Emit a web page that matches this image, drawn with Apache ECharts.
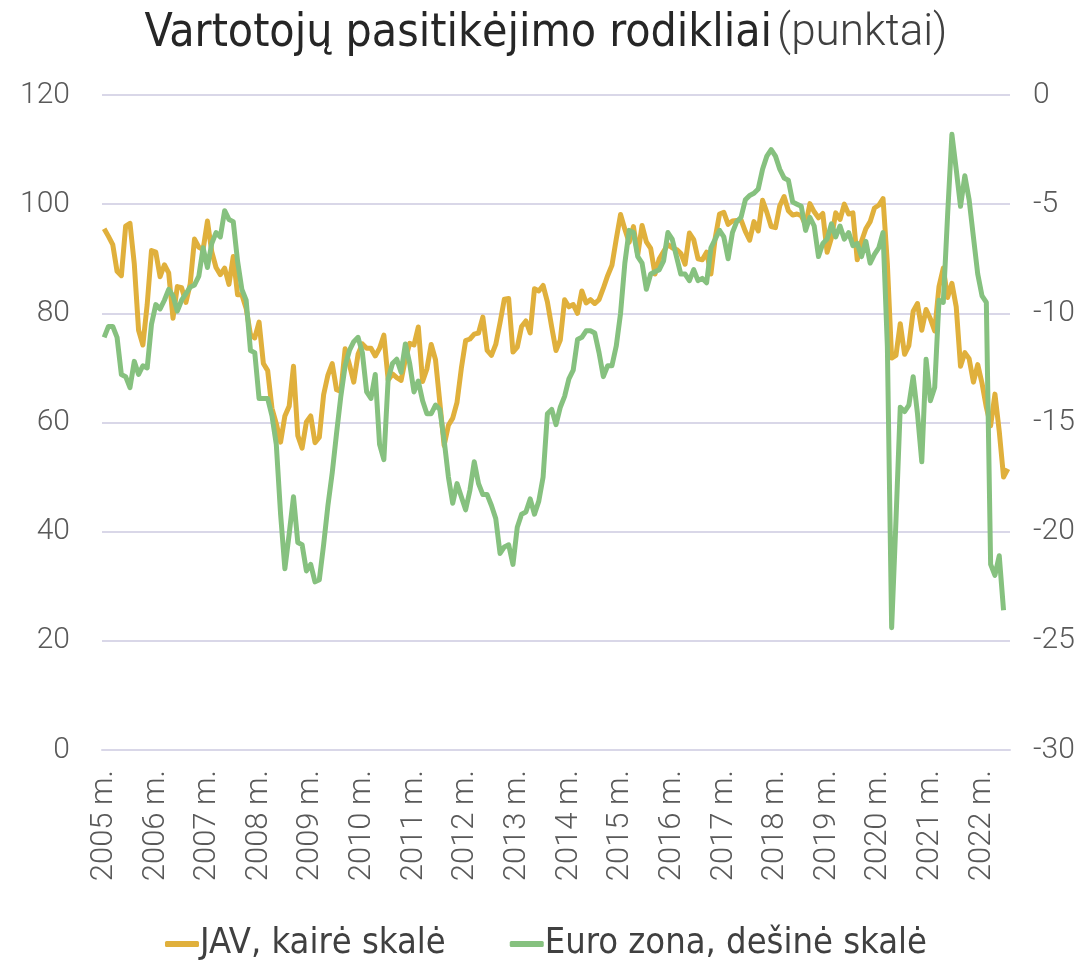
<!DOCTYPE html>
<html>
<head>
<meta charset="utf-8">
<script src="https://cdn.jsdelivr.net/npm/echarts@6/dist/echarts.min.js"></script>
<style>
    html, body { margin: 0; padding: 0; background: #fff; }
    #chart { width: 1092px; height: 969px; }
</style>
</head>
<body>
<div id="chart"></div>
<script>
// metai (kas 12 mėn. rodoma žymė)
var years = [2005, 2006, 2007, 2008, 2009, 2010, 2011, 2012, 2013, 2014,
    2015, 2016, 2017, 2018, 2019, 2020, 2021, 2022];

// JAV, kairė skalė (mėnesinės reikšmės nuo 2005-01)
var usValues = [
    95.5, 94.1, 92.6, 87.7, 86.9, 96.0, 96.5, 89.1, 76.9, 74.2, 81.6, 91.5,
    91.2, 86.7, 88.9, 87.4, 79.1, 84.9, 84.7, 82.0, 85.4, 93.6, 92.1, 91.7,
    96.9, 91.3, 88.4, 87.1, 88.3, 85.3, 90.4, 83.4, 83.4, 80.9, 76.1, 75.5,
    78.4, 70.8, 69.5, 62.6, 59.8, 56.4, 61.2, 63.0, 70.3, 57.6, 55.3, 60.1,
    61.2, 56.3, 57.3, 65.1, 68.7, 70.8, 66.0, 65.7, 73.5, 70.6, 67.4, 72.5,
    74.4, 73.6, 73.6, 72.2, 73.6, 76.0, 67.8, 68.9, 68.2, 67.7, 71.6, 74.5,
    74.2, 77.5, 67.5, 69.8, 74.3, 71.5, 63.7, 55.8, 59.5, 60.8, 63.7, 69.9,
    75.0, 75.3, 76.2, 76.4, 79.3, 73.2, 72.3, 74.3, 78.3, 82.6, 82.7, 72.9,
    73.8, 77.6, 78.6, 76.4, 84.5, 84.1, 85.1, 82.1, 77.5, 73.2, 75.1, 82.5,
    81.2, 81.6, 80.0, 84.1, 81.9, 82.5, 81.8, 82.5, 84.6, 86.9, 88.8, 93.6,
    98.1, 95.4, 93.0, 95.9, 90.7, 96.1, 93.1, 91.9, 87.2, 90.0, 91.3, 92.6,
    92.0, 91.7, 91.0, 89.0, 94.7, 93.5, 90.0, 89.8, 91.2, 87.2, 93.8, 98.2,
    98.5, 96.3, 96.9, 97.0, 97.1, 95.0, 93.4, 96.8, 95.1, 100.7, 98.5, 95.9,
    95.7, 99.7, 101.4, 98.8, 98.0, 98.2, 97.9, 96.2, 100.1, 98.6, 97.5, 98.3,
    91.2, 93.8, 98.4, 97.2, 100.0, 98.2, 98.4, 89.8, 93.2, 95.5, 96.8, 99.3,
    99.8, 101.0, 89.1, 71.8, 72.3, 78.1, 72.5, 74.1, 80.4, 81.8, 76.9, 80.7,
    79.0, 76.8, 84.9, 88.3, 82.9, 85.5, 81.2, 70.3, 72.8, 71.7, 67.4, 70.6,
    67.2, 62.8, 59.4, 65.2, 58.4, 50.0, 51.5
];

// Euro zona, dešinė skalė
var euroValues = [
    -11.1, -10.6, -10.6, -11.1, -12.8, -12.9, -13.4, -12.2, -12.8, -12.4, -12.5, -10.5,
    -9.6, -9.8, -9.4, -8.9, -9.2, -9.9, -9.4, -9.1, -8.8, -8.7, -8.3, -7.0,
    -7.9, -6.8, -6.3, -6.5, -5.3, -5.7, -5.8, -7.6, -8.9, -9.4, -11.7, -11.8,
    -13.9, -13.9, -13.9, -14.7, -16.0, -19.2, -21.7, -20.1, -18.4, -20.5, -20.6, -21.8,
    -21.5, -22.3, -22.2, -20.6, -18.8, -17.3, -15.5, -13.8, -12.4, -11.7, -11.3, -11.1,
    -11.8, -13.6, -13.9, -12.8, -16.0, -16.7, -13.0, -12.3, -12.1, -12.7, -11.4, -12.3,
    -13.6, -13.1, -14.0, -14.6, -14.6, -14.2, -14.4, -15.8, -17.5, -18.7, -17.8, -18.4,
    -19.0, -18.1, -16.8, -17.8, -18.3, -18.3, -18.8, -19.4, -21.0, -20.7, -20.6, -21.5,
    -19.8, -19.2, -19.1, -18.5, -19.2, -18.6, -17.5, -14.6, -14.4, -15.1, -14.3, -13.8,
    -13.0, -12.6, -11.2, -11.1, -10.8, -10.8, -10.9, -11.8, -12.9, -12.4, -12.4, -11.5,
    -10.0, -7.7, -6.2, -6.3, -7.4, -7.7, -8.9, -8.2, -8.1, -8.0, -7.6, -6.3,
    -6.6, -7.4, -8.2, -8.2, -8.5, -8.0, -8.5, -8.4, -8.6, -7.0, -6.6, -6.2,
    -6.5, -7.5, -6.3, -5.8, -5.6, -4.8, -4.6, -4.5, -4.3, -3.4, -2.8, -2.5,
    -2.8, -3.4, -3.8, -3.9, -4.9, -5.0, -5.1, -6.2, -5.6, -6.0, -7.4, -6.8,
    -6.6, -5.9, -6.5, -6.0, -6.6, -6.3, -6.9, -6.8, -7.4, -6.7, -7.7, -7.3,
    -7.0, -6.3, -11.5, -24.4, -19.5, -14.3, -14.5, -14.2, -12.9, -14.6, -16.8, -12.1,
    -14.0, -13.4, -9.4, -9.5, -5.5, -1.8, -3.4, -5.1, -3.7, -4.8, -6.5, -8.2,
    -9.2, -9.5, -21.5, -22.0, -21.1, -23.6
];

var leftTicks = [0, 20, 40, 60, 80, 100, 120];
var rightTicks = [-30, -25, -20, -15, -10, -5, 0];

var seriesNames = ['JAV, kairė skalė', 'Euro zona, dešinė skalė'];
var seriesColors = ['#E0B03C', '#86C17F'];

function buildMonths() {
    var months = [];
    for (var i = 0; i < usValues.length; i++) {
        var y = years[0] + Math.floor(i / 12);
        var m = i % 12 + 1;
        months.push(y + '-' + (m < 10 ? '0' + m : m));
    }
    return months;
}

var condFont = "'Liberation Sans Narrow', 'DejaVu Sans Condensed', 'Roboto Condensed', sans-serif";
var axisFont = "Roboto, 'Noto Sans', sans-serif";
var gridColor = '#D9D7E8';

var chart = echarts.init(document.getElementById('chart'));
var option = {
    backgroundColor: '#fff',
    animation: false,
    title: {
        left: 'center',
        top: 6,
        text: '{a|Vartotojų pasitikėjimo rodikliai} {b|(punktai)}',
        textStyle: {
            fontWeight: 'normal',
            rich: {
                a: { fontFamily: condFont, fontWeight: 'normal', fontSize: 46, color: '#262626' },
                b: { fontFamily: axisFont, fontWeight: 300, fontSize: 44, color: '#404040' }
            }
        }
    },
    legend: {
        bottom: 2,
        left: 'center',
        icon: 'roundRect',
        itemWidth: 34,
        itemHeight: 6,
        itemGap: 64,
        data: seriesNames,
        textStyle: {
            fontFamily: condFont,
            fontSize: 36,
            color: '#404040',
            padding: [0, 0, 0, -4]
        }
    },
    grid: {
        left: 102,
        right: 82,
        top: 95,
        bottom: 219
    },
    xAxis: {
        type: 'category',
        boundaryGap: true,
        data: buildMonths(),
        axisLine: { lineStyle: { color: gridColor, width: 2 } },
        axisTick: { show: false },
        axisLabel: {
            interval: 11,
            rotate: 90,
            margin: 20,
            fontFamily: axisFont,
            fontWeight: 300,
            fontSize: 31,
            color: '#595959',
            formatter: function (v) {
                return v.slice(0, 4) + ' m.';
            }
        }
    },
    yAxis: [{
        type: 'value',
        min: leftTicks[0],
        max: leftTicks[leftTicks.length - 1],
        interval: 20,
        axisLine: { show: false },
        axisTick: { show: false },
        splitLine: { lineStyle: { color: gridColor, width: 2 } },
        axisLabel: {
            margin: 32,
            fontFamily: axisFont,
            fontWeight: 300,
            fontSize: 30,
            color: '#595959'
        }
    }, {
        type: 'value',
        min: rightTicks[0],
        max: rightTicks[rightTicks.length - 1],
        interval: 5,
        axisLine: { show: false },
        axisTick: { show: false },
        splitLine: { show: false },
        axisLabel: {
            margin: 23,
            fontFamily: axisFont,
            fontWeight: 300,
            fontSize: 30,
            color: '#595959'
        }
    }],
    series: [{
        name: seriesNames[0],
        type: 'line',
        yAxisIndex: 0,
        data: usValues,
        showSymbol: false,
        color: seriesColors[0],
        lineStyle: { width: 5, color: seriesColors[0], join: 'round' }
    }, {
        name: seriesNames[1],
        type: 'line',
        yAxisIndex: 1,
        data: euroValues,
        showSymbol: false,
        color: seriesColors[1],
        lineStyle: { width: 5, color: seriesColors[1], join: 'round' }
    }]
};
chart.setOption(option);
</script>
</body>
</html>
